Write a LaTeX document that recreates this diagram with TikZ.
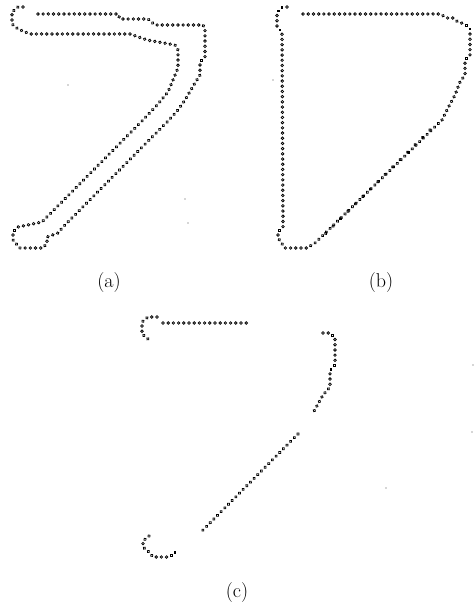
\documentclass[tikz,border=0pt]{standalone}
\usetikzlibrary{decorations.markings}
\begin{document}
\begin{tikzpicture}[x=1pt,y=-1pt,
  dotline/.style={decorate, decoration={markings,
     mark=between positions 0 and 1 step 5.2pt with {\draw[line width=0.75pt,black] (0,0) circle (1.3pt);}}},
  sparsedot/.style={decorate, decoration={markings,
     mark=between positions 0 and 1 step 10.5pt with {\draw[line width=0.75pt,black] (0,0) circle (1.3pt);}}},
  speck/.style={fill=black!70},
  lbl/.style={font=\fontsize{20}{24}\selectfont, inner sep=0pt}]
\useasboundingbox (0,0) rectangle (474,612);
% ---------- (a)
\path[dotline] (23,7) -- (18,7) -- (12,12) -- (12,24) -- (18,29) -- (30,34) -- (130,34) -- (147,40) -- (175,45) -- (178,50) -- (178,68) -- (173,80) -- (168,92) -- (158,104) -- (143,120) -- (42,222) -- (18,227) -- (13,232) -- (13,240) -- (20,248) -- (43,248) -- (47,243) -- (47,237) -- (58,233) -- (63,227) -- (169,120) -- (178,110) -- (185,100) -- (195,83) -- (200,75) -- (200,62) -- (205,57) -- (205,29) -- (203,25) -- (155,25) -- (148,19) -- (120,19) -- (118,14) -- (33,14);
% ---------- (b)
\path[dotline] (287,7) -- (282,7) -- (277,12) -- (277,27) -- (282,32) -- (283,227) -- (278,232) -- (278,238) -- (285,248) -- (307,248) -- (315,243) -- (442,120) -- (448,108) -- (455,95) -- (460,82) -- (465,75) -- (465,60) -- (470,55) -- (470,29) -- (465,24) -- (458,22) -- (453,18) -- (447,18) -- (440,14) -- (298,14);
\path[sparsedot] (430,130) -- (322,237);
% ---------- (c)
\path[dotline] (157,317) -- (148,317) -- (142,322) -- (142,334) -- (148,339);
\path[dotline] (163,323) -- (247,323);
\path[dotline] (323,333) -- (330,333) -- (335,338) -- (335,365) -- (330,370) -- (330,387) -- (323,395) -- (313,413);
\path[dotline] (298,434) -- (202,531);
\path[dotline] (149,536) -- (143,541) -- (143,547) -- (149,552) -- (153,557) -- (170,557) -- (175,552);
% ---------- specks
\foreach \p in {(68,85),(185,199),(188,223),(273,80),(473,365),(472,432),(386,488)}
  \fill[speck] \p circle (0.6pt);
% ---------- labels
\node[lbl] (la) at (109,283) {(a)};
\node[lbl] (lb) at (381,283) {(b)};
\node[lbl] (lc) at (237,593) {(c)};
\end{tikzpicture}
\end{document}
